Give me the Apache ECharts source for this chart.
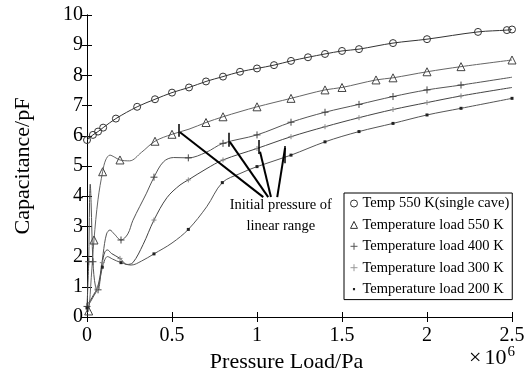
<!DOCTYPE html>
<html>
<head>
<meta charset="utf-8">
<script src="https://cdn.jsdelivr.net/npm/echarts@6/dist/echarts.min.js"></script>
<style>
  html, body { margin: 0; padding: 0; background: #fff; }
  #chart { width: 526px; height: 369px; }
</style>
</head>
<body>
<div id="chart"></div>
<script>
// x in 10^6 Pa, y in pF, third value = 1 where the original draws a marker
const seriesNames = ['Temp 550 K(single cave)', 'Temperature load 550 K', 'Temperature load 400 K',
  'Temperature load 300 K', 'Temperature load 200 K'];

const cave550 = [[0, 5.86, 1], [0.035, 6.03, 1], [0.065, 6.14, 1], [0.095, 6.27, 1], [0.17, 6.57, 1],
  [0.295, 6.96, 1], [0.4, 7.21, 1], [0.5, 7.43, 1], [0.6, 7.6, 1], [0.7, 7.8, 1], [0.8, 7.96, 1],
  [0.9, 8.12, 1], [1.0, 8.23, 1], [1.1, 8.34, 1], [1.2, 8.48, 1], [1.3, 8.6, 1], [1.4, 8.71, 1],
  [1.5, 8.81, 1], [1.6, 8.87, 1], [1.8, 9.07, 1], [2.0, 9.2, 1], [2.3, 9.44, 1], [2.47, 9.5, 1], [2.5, 9.52, 1]];

const load550 = [[0, 0.15, 0], [0.01, 0.2, 1], [0.025, 1.3, 0], [0.041, 2.55, 1], [0.065, 3.9, 0],
  [0.092, 4.81, 1], [0.11, 5.2, 0], [0.135, 5.36, 0], [0.16, 5.3, 0], [0.194, 5.2, 1], [0.25, 5.17, 0],
  [0.32, 5.45, 0], [0.4, 5.82, 1], [0.5, 6.05, 1], [0.6, 6.22, 0], [0.7, 6.44, 1], [0.8, 6.63, 1],
  [0.9, 6.8, 0], [1.0, 6.96, 1], [1.2, 7.24, 1], [1.4, 7.52, 1], [1.5, 7.6, 1], [1.7, 7.85, 1],
  [1.8, 7.92, 1], [2.0, 8.12, 1], [2.2, 8.29, 1], [2.5, 8.51, 1]];

const load400 = [[0, 0.35, 1], [0.01, 1.83, 1], [0.015, 3.8, 0], [0.019, 4.4, 0], [0.024, 3.8, 0],
  [0.035, 1.83, 1], [0.05, 1.0, 0], [0.065, 0.9, 1], [0.08, 1.4, 0], [0.095, 2.1, 0], [0.115, 2.75, 0],
  [0.135, 2.88, 0], [0.16, 2.75, 0], [0.2, 2.55, 1], [0.24, 2.75, 0], [0.27, 3.2, 0], [0.35, 4.1, 0],
  [0.394, 4.63, 1], [0.45, 5.14, 0], [0.51, 5.28, 0], [0.596, 5.27, 1], [0.7, 5.45, 0], [0.8, 5.75, 1],
  [1.0, 6.03, 1], [1.2, 6.45, 1], [1.4, 6.78, 1], [1.6, 7.04, 1], [1.8, 7.3, 1], [2.0, 7.52, 1],
  [2.2, 7.68, 1], [2.5, 7.94, 0]];

const load300 = [[0, 0.4, 0], [0.02, 0.55, 0], [0.04, 0.75, 0], [0.06, 0.95, 1], [0.075, 1.3, 0],
  [0.09, 1.8, 1], [0.105, 2.15, 0], [0.12, 2.22, 0], [0.145, 2.1, 0], [0.194, 1.94, 1], [0.235, 1.74, 0],
  [0.27, 1.8, 0], [0.33, 2.4, 0], [0.394, 3.21, 1], [0.47, 3.95, 0], [0.547, 4.37, 0], [0.596, 4.54, 1],
  [0.7, 4.9, 0], [0.8, 5.2, 1], [1.0, 5.58, 1], [1.2, 5.97, 1], [1.4, 6.3, 1], [1.6, 6.6, 1],
  [1.8, 6.87, 1], [2.0, 7.1, 1], [2.2, 7.32, 1], [2.5, 7.6, 0]];

const load200 = [[0, 0.3, 1], [0.02, 0.5, 0], [0.04, 0.7, 0], [0.06, 0.9, 0], [0.075, 1.2, 0],
  [0.09, 1.65, 1], [0.105, 1.9, 0], [0.12, 2.0, 0], [0.15, 1.92, 0], [0.2, 1.8, 1], [0.26, 1.72, 0],
  [0.32, 1.85, 0], [0.394, 2.09, 1], [0.5, 2.45, 0], [0.596, 2.9, 1], [0.704, 3.65, 0], [0.796, 4.45, 1],
  [0.9, 4.75, 0], [1.0, 4.98, 1], [1.2, 5.36, 1], [1.4, 5.8, 1], [1.6, 6.14, 1], [1.8, 6.41, 1],
  [2.0, 6.69, 1], [2.2, 6.91, 1], [2.5, 7.24, 1]];

// "initial pressure of linear range": short ticks on each curve, leader lines to the note
const rangeTicks = [[[0.54, 5.97], [0.54, 6.39]], [[0.831, 5.64], [0.831, 6.1]],
  [[1.008, 5.4], [1.008, 5.86]], [[1.165, 5.09], [1.165, 5.66]]];
const leaders = [[[0.547, 6.12], [1.037, 3.97]], [[0.84, 5.8], [1.066, 3.97]],
  [[1.018, 5.47], [1.082, 3.97]], [[1.165, 5.6], [1.119, 3.97]]];
const noteAt = [1.14, 3.36];
const noteText = 'Initial pressure of\nlinear range';

const xTicks = { min: 0, max: 2.5, step: 0.5 };
const yTicks = { min: 0, max: 10, step: 1 };

const FONT = 'Liberation Serif';
const plusPath = 'path://M5,0V10M0,5H10';
const dotPath = 'path://M0,0ZM10,10ZM3.5,3.5H6.5V6.5H3.5Z';

const markSize = (size) => (v) => (v[2] ? size : 0);

const makeSeries = (name, data, symbol, size, color, lineColor, fillIt) => ({
  name: name,
  type: 'line',
  data: data,
  smooth: 0.35,
  symbol: symbol,
  symbolSize: markSize(size),
  showAllSymbol: true,
  itemStyle: fillIt ? { color: color } : { color: 'rgba(0,0,0,0)', borderColor: color, borderWidth: 1 },
  lineStyle: { color: lineColor, width: 1 },
  emphasis: { disabled: true },
  z: 2
});

let chart = echarts.init(document.getElementById('chart'), null, { renderer: 'canvas' });

let s200 = makeSeries(seriesNames[4], load200, 'rect', 3, '#222', '#555', true);
s200.markLine = {
  silent: true,
  symbol: ['none', 'none'],
  label: { show: false },
  animation: false,
  data: rangeTicks.map(t => [{ coord: t[0], lineStyle: { color: '#000', width: 1.5, type: 'solid' } }, { coord: t[1] }])
    .concat(leaders.map(t => [{ coord: t[0], lineStyle: { color: '#000', width: 2, type: 'solid' } }, { coord: t[1] }]))
};
s200.markPoint = {
  silent: true,
  symbolSize: 0,
  animation: false,
  data: [{
    coord: noteAt,
    label: {
      show: true, position: 'inside', formatter: noteText, color: '#000',
      fontFamily: FONT, fontSize: 14.5, lineHeight: 21, align: 'center'
    }
  }]
};

let option = {
  animation: false,
  backgroundColor: '#fff',
  // v6 would shrink the grid to fit the names, keep the plot box where the original has it
  grid: { left: 87, right: 14, top: 15, bottom: 52, outerBoundsMode: 'none' },
  legend: {
    orient: 'vertical',
    left: 344,
    top: 193,
    padding: [3, 3, 3, 6],
    itemWidth: 7,
    itemHeight: 7,
    itemGap: 6.4,
    itemTextGap: 10,
    borderColor: '#000',
    borderWidth: 1,
    backgroundColor: '#fff',
    selectedMode: false,
    textStyle: { fontFamily: FONT, fontSize: 14.5, color: '#000', lineHeight: 15 },
    data: [
      { name: seriesNames[0], icon: 'circle', itemStyle: { color: 'rgba(0,0,0,0)', borderColor: '#333', borderWidth: 1 } },
      { name: seriesNames[1], icon: 'triangle', itemStyle: { color: 'rgba(0,0,0,0)', borderColor: '#333', borderWidth: 1 } },
      { name: seriesNames[2], icon: plusPath, itemStyle: { color: 'rgba(0,0,0,0)', borderColor: '#555', borderWidth: 1 } },
      { name: seriesNames[3], icon: plusPath, itemStyle: { color: 'rgba(0,0,0,0)', borderColor: '#999', borderWidth: 1 } },
      { name: seriesNames[4], icon: dotPath, itemStyle: { color: '#222' } }
    ]
  },
  xAxis: [{
    type: 'value',
    position: 'bottom',
    min: xTicks.min, max: xTicks.max, interval: xTicks.step,
    name: 'Pressure Load/Pa',
    nameLocation: 'middle',
    nameGap: 27,
    nameTextStyle: { fontFamily: FONT, fontSize: 22, color: '#000', padding: [0, 26, 0, 0] },
    axisLine: { lineStyle: { color: '#000', width: 1 } },
    axisTick: { inside: true, length: 5, lineStyle: { color: '#000' } },
    axisLabel: { fontFamily: FONT, fontSize: 20, color: '#000', margin: 9 },
    splitLine: { show: false }
  }, {
    type: 'value',
    position: 'top',
    min: xTicks.min, max: xTicks.max, interval: xTicks.step,
    axisLine: { lineStyle: { color: '#000', width: 1 } },
    axisTick: { inside: true, length: 5, lineStyle: { color: '#000' } },
    axisLabel: { show: false },
    splitLine: { show: false }
  }],
  yAxis: [{
    type: 'value',
    position: 'left',
    min: yTicks.min, max: yTicks.max, interval: yTicks.step,
    name: 'Capacitance/pF',
    nameLocation: 'middle',
    nameGap: 53,
    nameTextStyle: { fontFamily: FONT, fontSize: 22, color: '#000' },
    axisLine: { show: true, lineStyle: { color: '#000', width: 1 } },
    axisTick: { show: true, inside: true, length: 5, lineStyle: { color: '#000' } },
    axisLabel: { fontFamily: FONT, fontSize: 20, color: '#000', margin: 4, padding: [5, 0, 0, 0] },
    splitLine: { show: false }
  }, {
    type: 'value',
    position: 'right',
    min: yTicks.min, max: yTicks.max, interval: yTicks.step,
    axisLine: { show: true, lineStyle: { color: '#000', width: 1 } },
    axisTick: { show: true, inside: true, length: 5, lineStyle: { color: '#000' } },
    axisLabel: { show: false },
    splitLine: { show: false }
  }],
  graphic: [{
    type: 'text',
    left: 469,
    top: 345,
    style: {
      text: '{a|×}{c|10}{b|6}',
      rich: {
        a: { fontFamily: FONT, fontSize: 22, fill: '#000', padding: [0, 3, 0, 0] },
        c: { fontFamily: FONT, fontSize: 22, fill: '#000' },
        b: { fontFamily: FONT, fontSize: 15, fill: '#000', padding: [0, 0, 12, 1] }
      }
    }
  }],
  series: [
    makeSeries(seriesNames[0], cave550, 'circle', 7, '#333', '#333', false),
    makeSeries(seriesNames[1], load550, 'triangle', 8, '#444', '#666', false),
    makeSeries(seriesNames[2], load400, plusPath, 7, '#444', '#555', false),
    makeSeries(seriesNames[3], load300, plusPath, 5, '#888', '#444', false),
    s200
  ]
};

chart.setOption(option);
</script>
</body>
</html>
